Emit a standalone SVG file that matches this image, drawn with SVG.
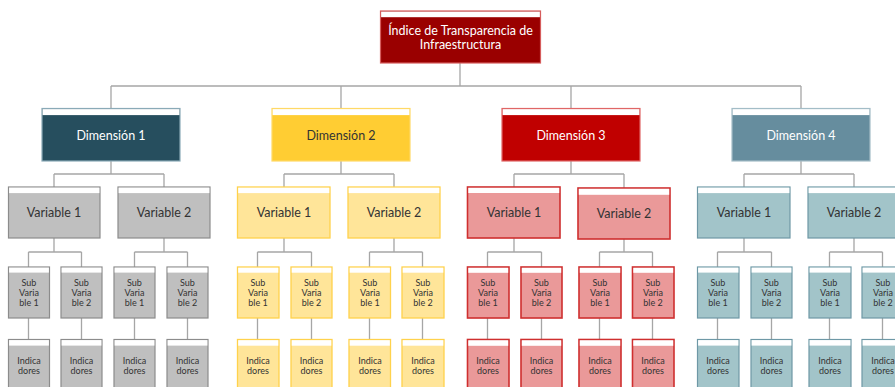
<svg xmlns="http://www.w3.org/2000/svg" width="895" height="387" viewBox="0 0 895 387">
<style>
.band{fill:#ffffff}
.t{font-family:Lato,"Open Sans","Liberation Sans",sans-serif;text-anchor:middle}
.big{font-size:12.5px}
.sm{font-size:9px}
.w{fill:#ffffff}
.d{fill:#333333}
.root{fill:#9A0000;stroke:#D65C5C;stroke-width:1.2}
.d1{fill:#264E5E;stroke:#8AAAB7;stroke-width:1.2}
.d2{fill:#FFCD33;stroke:#FFD966;stroke-width:1.2}
.d3{fill:#C00000;stroke:#E06666;stroke-width:1.2}
.d4{fill:#668D9E;stroke:#A3BDC7;stroke-width:1.2}
.g{fill:#BFBFBF;stroke:#8C8C8C;stroke-width:1.2}
.y{fill:#FFE599;stroke:#FFD24C;stroke-width:1.3}
.r{fill:#EA9999;stroke:#CF2F2F;stroke-width:1.6}
.b{fill:#A2C4C9;stroke:#6E98A6;stroke-width:1.2}
#connectors path{fill:none;stroke:#A6A6A6;stroke-width:1.3}
</style>
<defs>
<!-- reusable bands drawn per node -->
</defs>
<g id="connectors">
<path d="M460 63V86M111 86H801M111 86V108M341 86V108M571 86V108M801 86V108"/>
<path d="M111 161V174M54 174H164M54 174V187M164 174V187"/>
<path d="M341 161V174M284 174H394M284 174V187M394 174V187"/>
<path d="M571 161V174M514 174H624M514 174V187M624 174V188"/>
<path d="M801 161V174M744 174H854M744 174V187M854 174V187"/>
<path d="M54 238V252M28.5 252H81.5M28.5 252V267M81.5 252V267M164 238V252M134.5 252H187.5M134.5 252V267M187.5 252V267"/>
<path d="M284 238V252M257.5 252H311.5M257.5 252V267M311.5 252V267M394 238V252M369.5 252H422.5M369.5 252V267M422.5 252V267"/>
<path d="M514 238V252M487.5 252H541.5M487.5 252V267M541.5 252V267M624 239V252M599.5 252H652.5M599.5 252V267M652.5 252V267"/>
<path d="M744 238V252M717.5 252H771.5M717.5 252V267M771.5 252V267M854 238V252M829.5 252H882.5M829.5 252V267M882.5 252V267"/>
<path d="M28.5 318V339.5M81.5 318V339.5M134.5 318V339.5M187.5 318V339.5M257.5 318V339.5M311.5 318V339.5M369.5 318V339.5M422.5 318V339.5M487.5 318V339.5M541.5 318V339.5M599.5 318V339.5M652.5 318V339.5M717.5 318V339.5M771.5 318V339.5M829.5 318V339.5M882.5 318V339.5"/>
</g>

<g id="root">
<rect class="root" x="380.5" y="11" width="160" height="52"/>
<rect class="band" x="381.1" y="11.6" width="158.8" height="5.6"/>
<text class="t big w" x="460.5" y="34.5">Índice de Transparencia de</text>
<text class="t big w" x="460.5" y="49">Infraestructura</text>
</g>

<g id="dim1">
<rect class="d1" x="42" y="108.5" width="138" height="52.5"/>
<rect class="band" x="42.6" y="109.1" width="136.8" height="6"/>
<text class="t big w" x="111" y="139.5">Dimensión 1</text>
</g>
<g id="dim2">
<rect class="d2" x="272" y="108.5" width="138" height="52.5"/>
<rect class="band" x="272.6" y="109.1" width="136.8" height="6"/>
<text class="t big d" x="341" y="139.5">Dimensión 2</text>
</g>
<g id="dim3">
<rect class="d3" x="502" y="108.5" width="138" height="52.5"/>
<rect class="band" x="502.6" y="109.1" width="136.8" height="6"/>
<text class="t big w" x="571" y="139.5">Dimensión 3</text>
</g>
<g id="dim4">
<rect class="d4" x="732" y="108.5" width="138" height="52.5"/>
<rect class="band" x="732.6" y="109.1" width="136.8" height="6"/>
<text class="t big w" x="801" y="139.5">Dimensión 4</text>
</g>

<!-- Variables -->
<g id="d1v1"><rect class="g" x="8.5" y="187" width="91.5" height="51"/><rect class="band" x="9.1" y="187.6" width="90.3" height="5.5"/><text class="t big d" x="54" y="217">Variable 1</text></g>
<g id="d1v2"><rect class="g" x="118" y="187" width="92" height="51"/><rect class="band" x="118.6" y="187.6" width="90.8" height="5.5"/><text class="t big d" x="164" y="217">Variable 2</text></g>
<g id="d2v1"><rect class="y" x="237.5" y="187" width="92.5" height="51"/><rect class="band" x="238.2" y="187.7" width="91.1" height="5.4"/><text class="t big d" x="284" y="217">Variable 1</text></g>
<g id="d2v2"><rect class="y" x="348" y="187" width="92" height="51"/><rect class="band" x="348.7" y="187.7" width="90.6" height="5.4"/><text class="t big d" x="394" y="217">Variable 2</text></g>
<g id="d3v1"><rect class="r" x="467.5" y="187" width="92.5" height="51"/><rect class="band" x="468.3" y="187.8" width="90.9" height="5.2"/><text class="t big d" x="514" y="217">Variable 1</text></g>
<g id="d3v2"><rect class="r" x="578" y="188" width="92" height="51"/><rect class="band" x="578.8" y="188.8" width="90.4" height="6"/><text class="t big d" x="624" y="218">Variable 2</text></g>
<g id="d4v1"><rect class="b" x="697.5" y="187" width="92.5" height="51"/><rect class="band" x="698.1" y="187.6" width="91.3" height="5.5"/><text class="t big d" x="744" y="217">Variable 1</text></g>
<g id="d4v2"><rect class="b" x="808" y="187" width="92" height="51"/><rect class="band" x="808.6" y="187.6" width="90.8" height="5.5"/><text class="t big d" x="854" y="217">Variable 2</text></g>

<!-- Sub variables -->
<g id="d1v1s1"><rect class="g" x="8.5" y="267" width="41" height="51"/><rect class="band" x="9.1" y="267.6" width="39.8" height="5"/><text class="t sm d" x="29" y="286">Sub</text><text class="t sm d" x="29" y="296">Varia</text><text class="t sm d" x="29" y="306">ble 1</text></g>
<g id="d1v1s2"><rect class="g" x="61" y="267" width="41" height="51"/><rect class="band" x="61.6" y="267.6" width="39.8" height="5"/><text class="t sm d" x="81.5" y="286">Sub</text><text class="t sm d" x="81.5" y="296">Varia</text><text class="t sm d" x="81.5" y="306">ble 2</text></g>
<g id="d1v2s1"><rect class="g" x="114" y="267" width="41" height="51"/><rect class="band" x="114.6" y="267.6" width="39.8" height="5"/><text class="t sm d" x="134.5" y="286">Sub</text><text class="t sm d" x="134.5" y="296">Varia</text><text class="t sm d" x="134.5" y="306">ble 1</text></g>
<g id="d1v2s2"><rect class="g" x="167" y="267" width="41" height="51"/><rect class="band" x="167.6" y="267.6" width="39.8" height="5"/><text class="t sm d" x="187.5" y="286">Sub</text><text class="t sm d" x="187.5" y="296">Varia</text><text class="t sm d" x="187.5" y="306">ble 2</text></g>

<g id="d2v1s1"><rect class="y" x="237.5" y="267" width="41.5" height="51"/><rect class="band" x="238.2" y="267.7" width="40.1" height="5"/><text class="t sm d" x="258" y="286">Sub</text><text class="t sm d" x="258" y="296">Varia</text><text class="t sm d" x="258" y="306">ble 1</text></g>
<g id="d2v1s2"><rect class="y" x="291" y="267" width="41" height="51"/><rect class="band" x="291.7" y="267.7" width="39.6" height="5"/><text class="t sm d" x="311.5" y="286">Sub</text><text class="t sm d" x="311.5" y="296">Varia</text><text class="t sm d" x="311.5" y="306">ble 2</text></g>
<g id="d2v2s1"><rect class="y" x="349" y="267" width="41.5" height="51"/><rect class="band" x="349.7" y="267.7" width="40.1" height="5"/><text class="t sm d" x="370" y="286">Sub</text><text class="t sm d" x="370" y="296">Varia</text><text class="t sm d" x="370" y="306">ble 1</text></g>
<g id="d2v2s2"><rect class="y" x="402" y="267" width="42" height="51"/><rect class="band" x="402.7" y="267.7" width="40.6" height="5"/><text class="t sm d" x="423" y="286">Sub</text><text class="t sm d" x="423" y="296">Varia</text><text class="t sm d" x="423" y="306">ble 2</text></g>

<g id="d3v1s1"><rect class="r" x="467.5" y="267" width="41.5" height="51"/><rect class="band" x="468.3" y="267.8" width="39.9" height="5"/><text class="t sm d" x="488" y="286">Sub</text><text class="t sm d" x="488" y="296">Varia</text><text class="t sm d" x="488" y="306">ble 1</text></g>
<g id="d3v1s2"><rect class="r" x="521" y="267" width="41" height="51"/><rect class="band" x="521.8" y="267.8" width="39.4" height="5"/><text class="t sm d" x="541.5" y="286">Sub</text><text class="t sm d" x="541.5" y="296">Varia</text><text class="t sm d" x="541.5" y="306">ble 2</text></g>
<g id="d3v2s1"><rect class="r" x="579" y="267" width="42" height="51"/><rect class="band" x="579.8" y="267.8" width="40.4" height="5"/><text class="t sm d" x="600" y="286">Sub</text><text class="t sm d" x="600" y="296">Varia</text><text class="t sm d" x="600" y="306">ble 1</text></g>
<g id="d3v2s2"><rect class="r" x="632.5" y="267" width="41.5" height="51"/><rect class="band" x="633.3" y="267.8" width="39.9" height="5"/><text class="t sm d" x="653" y="286">Sub</text><text class="t sm d" x="653" y="296">Varia</text><text class="t sm d" x="653" y="306">ble 2</text></g>

<g id="d4v1s1"><rect class="b" x="697.5" y="267" width="41.5" height="51"/><rect class="band" x="698.1" y="267.6" width="40.3" height="5"/><text class="t sm d" x="718" y="286">Sub</text><text class="t sm d" x="718" y="296">Varia</text><text class="t sm d" x="718" y="306">ble 1</text></g>
<g id="d4v1s2"><rect class="b" x="751" y="267" width="41" height="51"/><rect class="band" x="751.6" y="267.6" width="39.8" height="5"/><text class="t sm d" x="771.5" y="286">Sub</text><text class="t sm d" x="771.5" y="296">Varia</text><text class="t sm d" x="771.5" y="306">ble 2</text></g>
<g id="d4v2s1"><rect class="b" x="809" y="267" width="42" height="51"/><rect class="band" x="809.6" y="267.6" width="40.8" height="5"/><text class="t sm d" x="830" y="286">Sub</text><text class="t sm d" x="830" y="296">Varia</text><text class="t sm d" x="830" y="306">ble 1</text></g>
<g id="d4v2s2"><rect class="b" x="862" y="267" width="42" height="51"/><rect class="band" x="862.6" y="267.6" width="40.8" height="5"/><text class="t sm d" x="883" y="286">Sub</text><text class="t sm d" x="883" y="296">Varia</text><text class="t sm d" x="883" y="306">ble 2</text></g>

<!-- Indicadores -->
<g id="d1i1"><rect class="g" x="8.5" y="339.5" width="41" height="60"/><rect class="band" x="9.1" y="340.1" width="39.8" height="5.5"/><text class="t sm d" x="29" y="363.5">Indica</text><text class="t sm d" x="29" y="373.5">dores</text></g>
<g id="d1i2"><rect class="g" x="61" y="339.5" width="41" height="60"/><rect class="band" x="61.6" y="340.1" width="39.8" height="5.5"/><text class="t sm d" x="81.5" y="363.5">Indica</text><text class="t sm d" x="81.5" y="373.5">dores</text></g>
<g id="d1i3"><rect class="g" x="114" y="339.5" width="41" height="60"/><rect class="band" x="114.6" y="340.1" width="39.8" height="5.5"/><text class="t sm d" x="134.5" y="363.5">Indica</text><text class="t sm d" x="134.5" y="373.5">dores</text></g>
<g id="d1i4"><rect class="g" x="167" y="339.5" width="41" height="60"/><rect class="band" x="167.6" y="340.1" width="39.8" height="5.5"/><text class="t sm d" x="187.5" y="363.5">Indica</text><text class="t sm d" x="187.5" y="373.5">dores</text></g>

<g id="d2i1"><rect class="y" x="237.5" y="339.5" width="41.5" height="60"/><rect class="band" x="238.2" y="340.2" width="40.1" height="5.5"/><text class="t sm d" x="258" y="363.5">Indica</text><text class="t sm d" x="258" y="373.5">dores</text></g>
<g id="d2i2"><rect class="y" x="291" y="339.5" width="41" height="60"/><rect class="band" x="291.7" y="340.2" width="39.6" height="5.5"/><text class="t sm d" x="311.5" y="363.5">Indica</text><text class="t sm d" x="311.5" y="373.5">dores</text></g>
<g id="d2i3"><rect class="y" x="349" y="339.5" width="41.5" height="60"/><rect class="band" x="349.7" y="340.2" width="40.1" height="5.5"/><text class="t sm d" x="370" y="363.5">Indica</text><text class="t sm d" x="370" y="373.5">dores</text></g>
<g id="d2i4"><rect class="y" x="402" y="339.5" width="42" height="60"/><rect class="band" x="402.7" y="340.2" width="40.6" height="5.5"/><text class="t sm d" x="423" y="363.5">Indica</text><text class="t sm d" x="423" y="373.5">dores</text></g>

<g id="d3i1"><rect class="r" x="467.5" y="339.5" width="41.5" height="60"/><rect class="band" x="468.3" y="340.3" width="39.9" height="5.5"/><text class="t sm d" x="488" y="363.5">Indica</text><text class="t sm d" x="488" y="373.5">dores</text></g>
<g id="d3i2"><rect class="r" x="521" y="339.5" width="41" height="60"/><rect class="band" x="521.8" y="340.3" width="39.4" height="5.5"/><text class="t sm d" x="541.5" y="363.5">Indica</text><text class="t sm d" x="541.5" y="373.5">dores</text></g>
<g id="d3i3"><rect class="r" x="579" y="339.5" width="42" height="60"/><rect class="band" x="579.8" y="340.3" width="40.4" height="5.5"/><text class="t sm d" x="600" y="363.5">Indica</text><text class="t sm d" x="600" y="373.5">dores</text></g>
<g id="d3i4"><rect class="r" x="632.5" y="339.5" width="41.5" height="60"/><rect class="band" x="633.3" y="340.3" width="39.9" height="5.5"/><text class="t sm d" x="653" y="363.5">Indica</text><text class="t sm d" x="653" y="373.5">dores</text></g>

<g id="d4i1"><rect class="b" x="697.5" y="339.5" width="41.5" height="60"/><rect class="band" x="698.1" y="340.1" width="40.3" height="5.5"/><text class="t sm d" x="718" y="363.5">Indica</text><text class="t sm d" x="718" y="373.5">dores</text></g>
<g id="d4i2"><rect class="b" x="751" y="339.5" width="41" height="60"/><rect class="band" x="751.6" y="340.1" width="39.8" height="5.5"/><text class="t sm d" x="771.5" y="363.5">Indica</text><text class="t sm d" x="771.5" y="373.5">dores</text></g>
<g id="d4i3"><rect class="b" x="809" y="339.5" width="42" height="60"/><rect class="band" x="809.6" y="340.1" width="40.8" height="5.5"/><text class="t sm d" x="830" y="363.5">Indica</text><text class="t sm d" x="830" y="373.5">dores</text></g>
<g id="d4i4"><rect class="b" x="862" y="339.5" width="42" height="60"/><rect class="band" x="862.6" y="340.1" width="40.8" height="5.5"/><text class="t sm d" x="883" y="363.5">Indica</text><text class="t sm d" x="883" y="373.5">dores</text></g>
</svg>
